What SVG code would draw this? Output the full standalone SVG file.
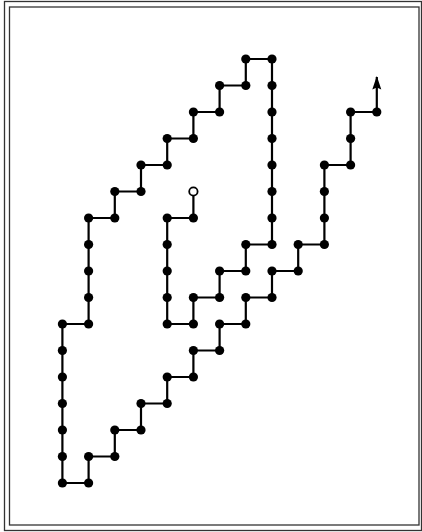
<svg xmlns="http://www.w3.org/2000/svg" width="422" height="532" viewBox="0 0 422 532">
<style>
.frame{fill:none;stroke:#333;stroke-width:1.3}
.walk{fill:none;stroke:#000;stroke-width:2.2;stroke-linejoin:miter}
.d{fill:#000}
.start{fill:#fff;stroke:#000;stroke-width:1.8}
</style>
<defs>
<marker id="ah" markerUnits="userSpaceOnUse" markerWidth="14" markerHeight="10" refX="13" refY="5" orient="auto" viewBox="0 0 14 10">
<path d="M14,5 L0.5,0.5 L2.5,5 L0.5,9.5 Z" fill="#000"/>
</marker>
</defs>
<rect width="422" height="532" fill="#fff"/>
<rect class="frame" x="4.5" y="1.5" width="417" height="529"/>
<rect class="frame" x="9.5" y="7" width="409.5" height="518"/>
<g id="connectors">
<polyline class="walk" points="193.4,191.5 193.4,218 167.2,218 167.2,324 193.4,324 193.4,297.5 219.6,297.5 219.6,271 245.8,271 245.8,244.5 272,244.5 272,59 245.8,59 245.8,85.5 219.6,85.5 219.6,112 193.4,112 193.4,138.5 167.2,138.5 167.2,165 141,165 141,191.5 114.8,191.5 114.8,218 88.6,218 88.6,324 62.4,324 62.4,483 88.6,483 88.6,456.5 114.8,456.5 114.8,430 141,430 141,403.5 167.2,403.5 167.2,377 193.4,377 193.4,350.5 219.6,350.5 219.6,324 245.8,324 245.8,297.5 272,297.5 272,271 298.2,271 298.2,244.5 324.4,244.5 324.4,165 350.6,165 350.6,112 376.8,112"/>
<line class="walk" x1="376.8" y1="112" x2="376.8" y2="77" marker-end="url(#ah)"/>
</g>
<g id="start"><circle class="start" cx="193.4" cy="191.5" r="4.2"/></g>
<g id="p01"><circle class="d" cx="193.4" cy="218" r="4.6"/></g>
<g id="p02"><circle class="d" cx="167.2" cy="218" r="4.6"/></g>
<g id="p03"><circle class="d" cx="167.2" cy="244.5" r="4.6"/></g>
<g id="p04"><circle class="d" cx="167.2" cy="271" r="4.6"/></g>
<g id="p05"><circle class="d" cx="167.2" cy="297.5" r="4.6"/></g>
<g id="p06"><circle class="d" cx="167.2" cy="324" r="4.6"/></g>
<g id="p07"><circle class="d" cx="193.4" cy="324" r="4.6"/></g>
<g id="p08"><circle class="d" cx="193.4" cy="297.5" r="4.6"/></g>
<g id="p09"><circle class="d" cx="219.6" cy="297.5" r="4.6"/></g>
<g id="p10"><circle class="d" cx="219.6" cy="271" r="4.6"/></g>
<g id="p11"><circle class="d" cx="245.8" cy="271" r="4.6"/></g>
<g id="p12"><circle class="d" cx="245.8" cy="244.5" r="4.6"/></g>
<g id="p13"><circle class="d" cx="272" cy="244.5" r="4.6"/></g>
<g id="p14"><circle class="d" cx="272" cy="218" r="4.6"/></g>
<g id="p15"><circle class="d" cx="272" cy="191.5" r="4.6"/></g>
<g id="p16"><circle class="d" cx="272" cy="165" r="4.6"/></g>
<g id="p17"><circle class="d" cx="272" cy="138.5" r="4.6"/></g>
<g id="p18"><circle class="d" cx="272" cy="112" r="4.6"/></g>
<g id="p19"><circle class="d" cx="272" cy="85.5" r="4.6"/></g>
<g id="p20"><circle class="d" cx="272" cy="59" r="4.6"/></g>
<g id="p21"><circle class="d" cx="245.8" cy="59" r="4.6"/></g>
<g id="p22"><circle class="d" cx="245.8" cy="85.5" r="4.6"/></g>
<g id="p23"><circle class="d" cx="219.6" cy="85.5" r="4.6"/></g>
<g id="p24"><circle class="d" cx="219.6" cy="112" r="4.6"/></g>
<g id="p25"><circle class="d" cx="193.4" cy="112" r="4.6"/></g>
<g id="p26"><circle class="d" cx="193.4" cy="138.5" r="4.6"/></g>
<g id="p27"><circle class="d" cx="167.2" cy="138.5" r="4.6"/></g>
<g id="p28"><circle class="d" cx="167.2" cy="165" r="4.6"/></g>
<g id="p29"><circle class="d" cx="141" cy="165" r="4.6"/></g>
<g id="p30"><circle class="d" cx="141" cy="191.5" r="4.6"/></g>
<g id="p31"><circle class="d" cx="114.8" cy="191.5" r="4.6"/></g>
<g id="p32"><circle class="d" cx="114.8" cy="218" r="4.6"/></g>
<g id="p33"><circle class="d" cx="88.6" cy="218" r="4.6"/></g>
<g id="p34"><circle class="d" cx="88.6" cy="244.5" r="4.6"/></g>
<g id="p35"><circle class="d" cx="88.6" cy="271" r="4.6"/></g>
<g id="p36"><circle class="d" cx="88.6" cy="297.5" r="4.6"/></g>
<g id="p37"><circle class="d" cx="88.6" cy="324" r="4.6"/></g>
<g id="p38"><circle class="d" cx="62.4" cy="324" r="4.6"/></g>
<g id="p39"><circle class="d" cx="62.4" cy="350.5" r="4.6"/></g>
<g id="p40"><circle class="d" cx="62.4" cy="377" r="4.6"/></g>
<g id="p41"><circle class="d" cx="62.4" cy="403.5" r="4.6"/></g>
<g id="p42"><circle class="d" cx="62.4" cy="430" r="4.6"/></g>
<g id="p43"><circle class="d" cx="62.4" cy="456.5" r="4.6"/></g>
<g id="p44"><circle class="d" cx="62.4" cy="483" r="4.6"/></g>
<g id="p45"><circle class="d" cx="88.6" cy="483" r="4.6"/></g>
<g id="p46"><circle class="d" cx="88.6" cy="456.5" r="4.6"/></g>
<g id="p47"><circle class="d" cx="114.8" cy="456.5" r="4.6"/></g>
<g id="p48"><circle class="d" cx="114.8" cy="430" r="4.6"/></g>
<g id="p49"><circle class="d" cx="141" cy="430" r="4.6"/></g>
<g id="p50"><circle class="d" cx="141" cy="403.5" r="4.6"/></g>
<g id="p51"><circle class="d" cx="167.2" cy="403.5" r="4.6"/></g>
<g id="p52"><circle class="d" cx="167.2" cy="377" r="4.6"/></g>
<g id="p53"><circle class="d" cx="193.4" cy="377" r="4.6"/></g>
<g id="p54"><circle class="d" cx="193.4" cy="350.5" r="4.6"/></g>
<g id="p55"><circle class="d" cx="219.6" cy="350.5" r="4.6"/></g>
<g id="p56"><circle class="d" cx="219.6" cy="324" r="4.6"/></g>
<g id="p57"><circle class="d" cx="245.8" cy="324" r="4.6"/></g>
<g id="p58"><circle class="d" cx="245.8" cy="297.5" r="4.6"/></g>
<g id="p59"><circle class="d" cx="272" cy="297.5" r="4.6"/></g>
<g id="p60"><circle class="d" cx="272" cy="271" r="4.6"/></g>
<g id="p61"><circle class="d" cx="298.2" cy="271" r="4.6"/></g>
<g id="p62"><circle class="d" cx="298.2" cy="244.5" r="4.6"/></g>
<g id="p63"><circle class="d" cx="324.4" cy="244.5" r="4.6"/></g>
<g id="p64"><circle class="d" cx="324.4" cy="218" r="4.6"/></g>
<g id="p65"><circle class="d" cx="324.4" cy="191.5" r="4.6"/></g>
<g id="p66"><circle class="d" cx="324.4" cy="165" r="4.6"/></g>
<g id="p67"><circle class="d" cx="350.6" cy="165" r="4.6"/></g>
<g id="p68"><circle class="d" cx="350.6" cy="138.5" r="4.6"/></g>
<g id="p69"><circle class="d" cx="350.6" cy="112" r="4.6"/></g>
<g id="p70"><circle class="d" cx="376.8" cy="112" r="4.6"/></g>
</svg>
